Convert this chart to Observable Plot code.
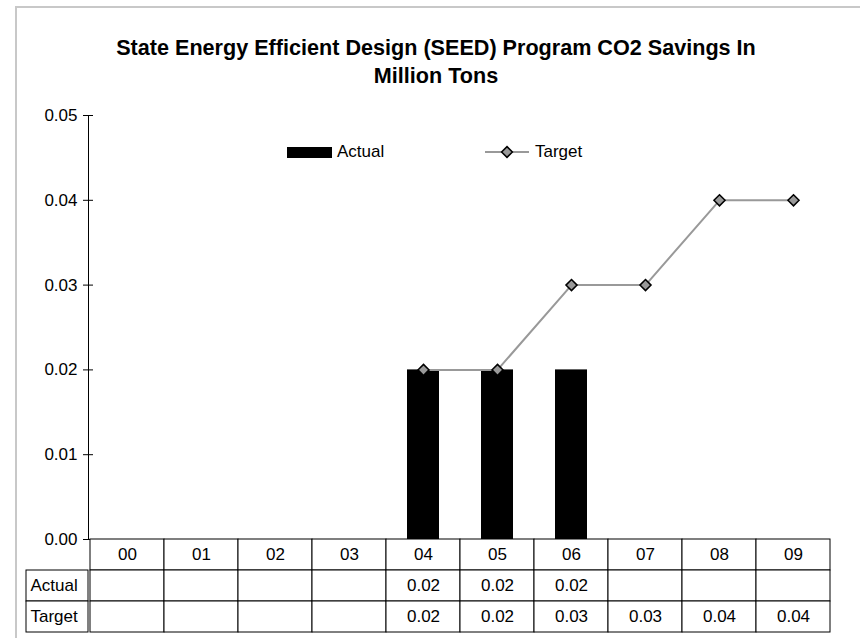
<!DOCTYPE html>
<html><head><meta charset="utf-8">
<script src="https://cdn.jsdelivr.net/npm/d3@7"></script>
<script src="https://cdn.jsdelivr.net/npm/@observablehq/plot@0.6"></script>
<style>
body{margin:0;background:#fff;}
#wrap{position:relative;width:860px;height:638px;overflow:hidden;font-family:"Liberation Sans",Arial,sans-serif;color:#000;background:#fff;}
#border{position:absolute;left:15px;top:6px;width:900px;height:700px;border-left:2px solid #c8c8c8;border-top:2px solid #c8c8c8;}
#title{position:absolute;left:16px;width:840px;top:34px;text-align:center;font-weight:bold;font-size:21.6px;line-height:28px;}
.abs{position:absolute;}
.leg{position:absolute;font-size:17px;line-height:20px;}
</style></head><body>
<div id="wrap">
  <div id="border"></div>
  <div id="main" class="abs" style="left:0;top:0"></div>
  <div id="tbl" class="abs" style="left:0;top:538px"></div>
  <div id="lbl" class="abs" style="left:0;top:538px"></div>
  <div id="title">State Energy Efficient Design (SEED) Program CO2 Savings In<br>Million Tons</div>
  <div id="legend"></div>
</div>
<script>
const years = ["00","01","02","03","04","05","06","07","08","09"];
const actual = [null,null,null,null,0.02,0.02,0.02,null,null,null];
const target = [null,null,null,null,0.02,0.02,0.03,0.03,0.04,0.04];
const yTicks = [0,0.01,0.02,0.03,0.04,0.05];
const rowNames = ["hdr","Actual","Target"];
const seriesNames = ["Actual","Target"];

const data = years.map((y,i)=>({year:y, actual:actual[i], target:target[i]}));
const fmt = d3.format(".2f");
const font = '"Liberation Sans", Arial, sans-serif';
const baseStyle = {fontFamily: font, fontSize: "17px", background: "transparent", color: "black", overflow: "visible"};

const main = Plot.plot({
  width: 860, height: 638,
  marginTop: 115, marginBottom: 99, marginLeft: 88, marginRight: 29,
  style: baseStyle,
  x: {type: "band", domain: years, padding: 0, axis: null},
  y: {domain: [0, 0.05], axis: null},
  marks: [
    Plot.axisY(yTicks, {tickSize: 10, dx: 5, tickPadding: 6, tickFormat: fmt, label: null, stroke: "black", fontSize: 17}),
    Plot.frame({anchor: "left", stroke: "black"}),
    Plot.barY(data.filter(d => d.actual != null), {x: "year", y: "actual", fill: "black", insetLeft: 21, insetRight: 21}),
    Plot.line(data.filter(d => d.target != null), {x: "year", y: "target", stroke: "#999", strokeWidth: 2}),
    Plot.dot(data.filter(d => d.target != null), {x: "year", y: "target", symbol: "diamond2", r: 5, fill: "#999", stroke: "black", strokeWidth: 1.5})
  ]
});
document.getElementById("main").appendChild(main);

const cells = years.flatMap((y,i) => [
  {year: y, row: "hdr", text: y},
  {year: y, row: "Actual", text: actual[i] == null ? "" : fmt(actual[i])},
  {year: y, row: "Target", text: target[i] == null ? "" : fmt(target[i])}
]);

const tbl = Plot.plot({
  width: 860, height: 96,
  marginTop: 1, marginBottom: 2, marginLeft: 88, marginRight: 29,
  style: baseStyle,
  x: {type: "band", domain: years, padding: 0, axis: null},
  y: {type: "band", domain: rowNames, padding: 0, axis: null},
  marks: [
    Plot.cell(cells, {x: "year", y: "row", fill: "white", stroke: "black", strokeWidth: 1, inset: 0}),
    Plot.text(cells, {x: "year", y: "row", text: "text", fontSize: 17, fill: "black"})
  ]
});
document.getElementById("tbl").appendChild(tbl);

const lblCells = seriesNames.map(n => ({col: "label", row: n}));
const lbl = Plot.plot({
  width: 88, height: 96,
  marginTop: 1, marginBottom: 2, marginLeft: 26, marginRight: 0,
  style: baseStyle,
  x: {type: "band", domain: ["label"], padding: 0, axis: null},
  y: {type: "band", domain: rowNames, padding: 0, axis: null},
  marks: [
    Plot.cell(lblCells, {x: "col", y: "row", fill: "white", stroke: "black", strokeWidth: 1, inset: 0}),
    Plot.text(lblCells, {y: "row", text: "row", frameAnchor: "left", textAnchor: "start", dx: 4, fontSize: 17, fill: "black"})
  ]
});
document.getElementById("lbl").appendChild(lbl);

// legend
const legend = document.getElementById("legend");
legend.innerHTML = `
  <svg class="abs" style="left:287px;top:147px" width="45" height="11"><rect width="45" height="11" fill="black"/></svg>
  <div class="leg" style="left:337px;top:142px">${seriesNames[0]}</div>
  <svg class="abs" style="left:485px;top:144px" width="44" height="16">
    <line x1="0" x2="44" y1="8" y2="8" stroke="#999" stroke-width="2"/>
    <path d="M22,2.6L27.4,8L22,13.4L16.6,8Z" fill="#999" stroke="black" stroke-width="1.5"/>
  </svg>
  <div class="leg" style="left:535px;top:142px">${seriesNames[1]}</div>`;
</script>
</body></html>
